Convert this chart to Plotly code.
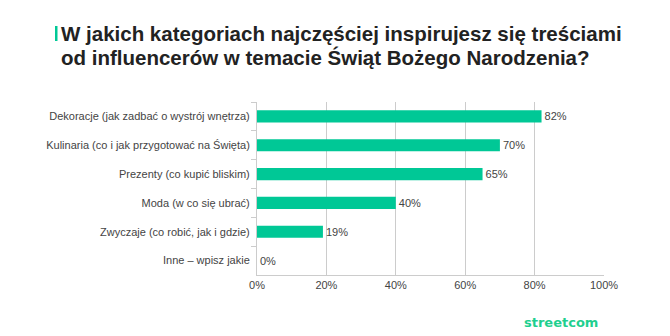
import plotly.graph_objects as go

categories = [
    "Dekoracje (jak zadbać o wystrój wnętrza)",
    "Kulinaria (co i jak przygotować na Święta)",
    "Prezenty (co kupić bliskim)",
    "Moda (w co się ubrać)",
    "Zwyczaje (co robić, jak i gdzie)",
    "Inne – wpisz jakie",
]
values = [82, 70, 65, 40, 19, 0]
x_ticks = [0, 20, 40, 60, 80, 100]
x_tick_labels = ["0%", "20%", "40%", "60%", "80%", "100%"]
title_lines = [
    "W jakich kategoriach najczęściej inspirujesz się treściami",
    "od influencerów w temacie Świąt Bożego Narodzenia?",
]

FONT = "Liberation Sans, Arial, sans-serif"
GREEN = "#00C896"

fig = go.Figure(go.Bar(
    x=values,
    y=categories,
    orientation="h",
    marker=dict(color=GREEN, line=dict(width=0)),
    width=0.42,
    text=[f"{v}%" for v in values],
    textposition="outside",
    textfont=dict(family=FONT, size=11, color="#444"),
    cliponaxis=False,
))

fig.update_layout(
    width=670, height=336,
    margin=dict(l=257, r=66, t=102, b=61),
    paper_bgcolor="white", plot_bgcolor="white",
    showlegend=False,
    font=dict(family=FONT, size=11, color="#444"),
    xaxis=dict(
        range=[0, 100], tickvals=x_ticks, ticktext=x_tick_labels,
        showgrid=True, gridcolor="#cccccc", gridwidth=1,
        zeroline=False, showline=True, linecolor="#cccccc",
        ticks="", tickfont=dict(size=11, color="#444"),
    ),
    yaxis=dict(
        categoryorder="array", categoryarray=categories,
        autorange="reversed",
        showline=True, linecolor="#cccccc",
        ticks="outside", tickson="boundaries", ticklen=5, tickcolor="#cccccc",
        showgrid=False, ticklabelstandoff=4,
        tickfont=dict(size=11, color="#444"),
    ),
)

PH = 173.0
PW = 347.0
def px_x(x):
    return (x - 257) / PW
def px_y(y):
    return 1.0 + (102 - y) / PH

fig.add_shape(type="rect", xref="paper", yref="paper",
              x0=px_x(55), x1=px_x(57.5), y0=px_y(41), y1=px_y(26),
              fillcolor=GREEN, line=dict(width=0))
for line, yc in zip(title_lines, [33.5, 57.5]):
    fig.add_annotation(
        xref="paper", yref="paper", x=px_x(59), y=px_y(yc),
        xanchor="left", yanchor="middle", align="left", showarrow=False,
        text=f"<b>{line}</b>",
        font=dict(family=FONT, size=20.5, color="#222"),
    )
fig.add_annotation(
    xref="paper", yref="paper", x=px_x(600), y=px_y(322),
    xanchor="right", yanchor="middle", showarrow=False,
    text="<b>streetcom</b>",
    font=dict(family="DejaVu Sans, sans-serif", size=13, color="#1fcf8f"),
)

fig.write_html("out.html")
